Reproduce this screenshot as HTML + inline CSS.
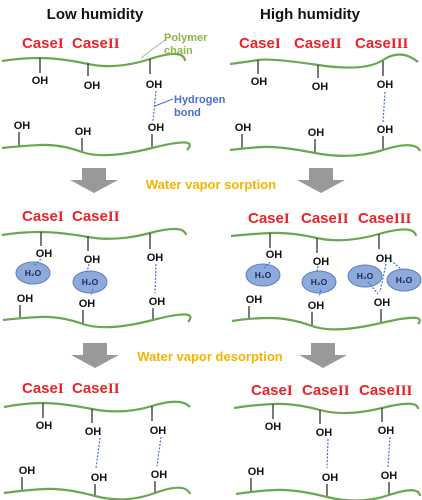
<!DOCTYPE html>
<html><head><meta charset="utf-8"><style>
html,body{margin:0;padding:0;background:#fff;}
svg{display:block;}
text{font-family:"Liberation Sans",Arial,sans-serif;font-weight:bold;}
.oh{font-size:11px;fill:#111;}
.case{font-size:15px;fill:#e8232a;}
.n{font-family:"Liberation Serif",serif;}
.ch{fill:none;stroke:#6aa84f;stroke-width:2.2;}
.st{stroke:#333;stroke-width:1.3;}
.hb{stroke:#4a6fd0;stroke-width:1.2;stroke-dasharray:2,1.5;}
.el{fill:#8eaadb;stroke:#5b7fc2;stroke-width:1;}
.h2o{font-size:8.5px;fill:#1a2a5a;}
.arr{fill:#999;}
.or{font-size:13px;fill:#f4b400;}
</style></head><body>
<svg width="422" height="500" viewBox="0 0 422 500">
<text x="95" y="19" text-anchor="middle" style="font-size:15px" fill="#111">Low humidity</text>
<text x="310" y="19" text-anchor="middle" style="font-size:15px" fill="#111">High humidity</text>

<!-- Top left -->
<text class="case" x="22" y="48">Case<tspan class="n">I</tspan></text><text class="case" x="72" y="48">Case<tspan class="n">II</tspan></text>
<path class="ch" d="M2,61 Q20,58 40,58 T88,64 T150,59 T185,61"/>
<line class="st" x1="40" y1="58" x2="40" y2="73"/><text class="oh" x="40" y="84" text-anchor="middle">OH</text>
<line class="st" x1="88" y1="63" x2="88" y2="76"/><text class="oh" x="92" y="89" text-anchor="middle">OH</text>
<line class="st" x1="150" y1="59" x2="150" y2="74"/><text class="oh" x="154" y="88" text-anchor="middle">OH</text>
<line class="hb" x1="156" y1="91" x2="153" y2="121"/>
<text class="oh" x="22" y="129" text-anchor="middle">OH</text><line class="st" x1="19" y1="132" x2="19" y2="146"/>
<text class="oh" x="83" y="135" text-anchor="middle">OH</text><line class="st" x1="82" y1="138" x2="82" y2="152"/>
<text class="oh" x="156" y="131" text-anchor="middle">OH</text><line class="st" x1="152" y1="134" x2="152" y2="148"/>
<path class="ch" d="M2,148 Q20,146 40,145 T82,152 T152,148 T187,150"/>
<line x1="141" y1="58" x2="165" y2="40" stroke="#9bc07a" stroke-width="1"/>
<text x="164" y="41" style="font-size:11px" fill="#8ab84a">Polymer</text>
<text x="164" y="54" style="font-size:11px" fill="#8ab84a">chain</text>
<line x1="155" y1="106" x2="173" y2="99" stroke="#4a6fd0" stroke-width="1"/>
<text x="174" y="103" style="font-size:11px" fill="#4a6fd0">Hydrogen</text>
<text x="174" y="116" style="font-size:11px" fill="#4a6fd0">bond</text>

<!-- Top right -->
<text class="case" x="239" y="48">Case<tspan class="n">I</tspan></text><text class="case" x="294" y="48">Case<tspan class="n">II</tspan></text><text class="case" x="355" y="48">Case<tspan class="n">III</tspan></text>
<path class="ch" d="M230,64 Q245,62 258,60 T318,65 T383,60 T418,62"/>
<line class="st" x1="258" y1="60" x2="258" y2="74"/><text class="oh" x="259" y="85" text-anchor="middle">OH</text>
<line class="st" x1="318" y1="65" x2="318" y2="78"/><text class="oh" x="320" y="90" text-anchor="middle">OH</text>
<line class="st" x1="383" y1="61" x2="383" y2="76"/><text class="oh" x="385" y="88" text-anchor="middle">OH</text>
<line class="hb" x1="385" y1="92" x2="383" y2="122"/>
<text class="oh" x="243" y="131" text-anchor="middle">OH</text><line class="st" x1="242" y1="134" x2="242" y2="148"/>
<text class="oh" x="316" y="136" text-anchor="middle">OH</text><line class="st" x1="315" y1="139" x2="315" y2="153"/>
<text class="oh" x="385" y="133" text-anchor="middle">OH</text><line class="st" x1="383" y1="136" x2="383" y2="150"/>
<path class="ch" d="M230,150 Q245,148 262,147 T315,153 T383,150 T420,151"/>

<!-- arrows sorption -->
<path class="arr" d="M82,168 H106 V180 H118 L94,193 L70,180 H82 Z"/>
<path class="arr" d="M309,168 H333 V180 H345 L321,193 L297,180 H309 Z"/>
<text class="or" x="211" y="189" text-anchor="middle">Water vapor sorption</text>

<!-- Middle left -->
<text class="case" x="22" y="221">Case<tspan class="n">I</tspan></text><text class="case" x="72" y="221">Case<tspan class="n">II</tspan></text>
<path class="ch" d="M2,235 Q20,232 40,232 T88,237 T150,233 T186,235"/>
<line class="st" x1="41" y1="232" x2="41" y2="246"/><text class="oh" x="44" y="257" text-anchor="middle">OH</text>
<line class="st" x1="88" y1="236" x2="88" y2="251"/><text class="oh" x="92" y="263" text-anchor="middle">OH</text>
<line class="st" x1="150" y1="233" x2="150" y2="249"/><text class="oh" x="155" y="261" text-anchor="middle">OH</text>
<ellipse class="el" cx="33" cy="273" rx="17" ry="11"/><text class="h2o" x="33" y="276" text-anchor="middle">H₂O</text>
<line class="hb" x1="41" y1="259" x2="34" y2="266"/>
<ellipse class="el" cx="90" cy="282" rx="17" ry="11"/><text class="h2o" x="90" y="285" text-anchor="middle">H₂O</text>
<line class="hb" x1="89" y1="264" x2="87" y2="272"/><line class="hb" x1="93" y1="289" x2="91" y2="296"/>
<line class="hb" x1="156" y1="264" x2="155" y2="293"/>
<text class="oh" x="25" y="302" text-anchor="middle">OH</text><line class="st" x1="20" y1="305" x2="20" y2="319"/>
<text class="oh" x="87" y="307" text-anchor="middle">OH</text><line class="st" x1="83" y1="310" x2="83" y2="324"/>
<text class="oh" x="157" y="305" text-anchor="middle">OH</text><line class="st" x1="153" y1="308" x2="153" y2="321"/>
<path class="ch" d="M3,320 Q20,318 40,317 T83,324 T153,320 T188,322"/>

<!-- Middle right -->
<text class="case" x="248" y="223">Case<tspan class="n">I</tspan></text><text class="case" x="301" y="223">Case<tspan class="n">II</tspan></text><text class="case" x="358" y="223">Case<tspan class="n">III</tspan></text>
<path class="ch" d="M231,236 Q250,234 270,233 T317,238 T379,234 T416,236"/>
<line class="st" x1="270" y1="233" x2="270" y2="248"/><text class="oh" x="274" y="258" text-anchor="middle">OH</text>
<line class="st" x1="317" y1="238" x2="317" y2="253"/><text class="oh" x="321" y="265" text-anchor="middle">OH</text>
<line class="st" x1="379" y1="234" x2="379" y2="249"/><text class="oh" x="384" y="262" text-anchor="middle">OH</text>
<ellipse class="el" cx="263" cy="275" rx="17" ry="11"/><text class="h2o" x="263" y="278" text-anchor="middle">H₂O</text>
<line class="hb" x1="270" y1="262" x2="264" y2="268"/>
<ellipse class="el" cx="319" cy="282" rx="17" ry="11"/><text class="h2o" x="319" y="285" text-anchor="middle">H₂O</text>
<line class="hb" x1="318" y1="266" x2="317" y2="272"/><line class="hb" x1="321" y1="290" x2="319" y2="297"/>
<ellipse class="el" cx="365" cy="276" rx="17" ry="11"/><text class="h2o" x="365" y="279" text-anchor="middle">H₂O</text>
<ellipse class="el" cx="404" cy="280" rx="17" ry="11"/><text class="h2o" x="404" y="283" text-anchor="middle">H₂O</text>
<line class="hb" x1="388" y1="258" x2="402" y2="270"/><line class="hb" x1="386" y1="264" x2="380" y2="292"/>
<line class="hb" x1="368" y1="282" x2="378" y2="294"/>
<text class="oh" x="254" y="303" text-anchor="middle">OH</text><line class="st" x1="249" y1="306" x2="249" y2="320"/>
<text class="oh" x="316" y="309" text-anchor="middle">OH</text><line class="st" x1="312" y1="312" x2="312" y2="326"/>
<text class="oh" x="382" y="306" text-anchor="middle">OH</text><line class="st" x1="381" y1="309" x2="381" y2="323"/>
<path class="ch" d="M232,321 Q250,318 270,318 T312,326 T381,323 T418,324"/>

<!-- arrows desorption -->
<path class="arr" d="M83,343 H107 V355 H119 L95,368 L71,355 H83 Z"/>
<path class="arr" d="M311,343 H335 V355 H347 L323,368 L299,355 H311 Z"/>
<text class="or" x="210" y="361" text-anchor="middle">Water vapor desorption</text>

<!-- Bottom left -->
<text class="case" x="22" y="393">Case<tspan class="n">I</tspan></text><text class="case" x="72" y="393">Case<tspan class="n">II</tspan></text>
<path class="ch" d="M4,407 Q25,403 43,403 T92,409 T152,406 T190,407"/>
<line class="st" x1="43" y1="403" x2="43" y2="418"/><text class="oh" x="44" y="429" text-anchor="middle">OH</text>
<line class="st" x1="92" y1="409" x2="92" y2="423"/><text class="oh" x="93" y="435" text-anchor="middle">OH</text>
<line class="st" x1="152" y1="406" x2="152" y2="421"/><text class="oh" x="158" y="434" text-anchor="middle">OH</text>
<line class="hb" x1="100" y1="438" x2="96" y2="468"/><line class="hb" x1="161" y1="437" x2="157" y2="466"/>
<text class="oh" x="27" y="474" text-anchor="middle">OH</text><line class="st" x1="22" y1="477" x2="22" y2="491"/>
<text class="oh" x="99" y="481" text-anchor="middle">OH</text><line class="st" x1="95" y1="484" x2="95" y2="496"/>
<text class="oh" x="159" y="478" text-anchor="middle">OH</text><line class="st" x1="155" y1="481" x2="155" y2="494"/>
<path class="ch" d="M4,493 Q25,490 45,489 T95,496 T155,493 T190,494"/>

<!-- Bottom right -->
<text class="case" x="251" y="395">Case<tspan class="n">I</tspan></text><text class="case" x="302" y="395">Case<tspan class="n">II</tspan></text><text class="case" x="359" y="395">Case<tspan class="n">III</tspan></text>
<path class="ch" d="M234,408 Q252,405 273,404 T320,410 T382,408 T418,409"/>
<line class="st" x1="273" y1="404" x2="273" y2="419"/><text class="oh" x="273" y="430" text-anchor="middle">OH</text>
<line class="st" x1="320" y1="410" x2="320" y2="424"/><text class="oh" x="324" y="436" text-anchor="middle">OH</text>
<line class="st" x1="382" y1="408" x2="382" y2="422"/><text class="oh" x="386" y="434" text-anchor="middle">OH</text>
<line class="hb" x1="328" y1="439" x2="327" y2="468"/><line class="hb" x1="390" y1="437" x2="388" y2="467"/>
<text class="oh" x="256" y="475" text-anchor="middle">OH</text><line class="st" x1="251" y1="478" x2="251" y2="492"/>
<text class="oh" x="330" y="481" text-anchor="middle">OH</text><line class="st" x1="327" y1="484" x2="327" y2="497"/>
<text class="oh" x="389" y="479" text-anchor="middle">OH</text><line class="st" x1="389" y1="482" x2="389" y2="495"/>
<path class="ch" d="M236,494 Q255,491 275,490 T327,497 T389,495 T420,496"/>
</svg>
</body></html>
